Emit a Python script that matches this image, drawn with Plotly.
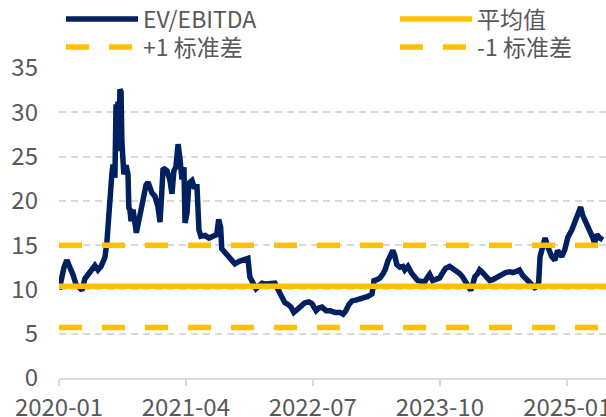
import plotly.graph_objects as go

# ---------------- data ----------------
dates = [
    "2020-01-02", "2020-01-06", "2020-01-13", "2020-01-19", "2020-01-29", "2020-02-09",
    "2020-02-20", "2020-03-02", "2020-03-13", "2020-03-24", "2020-04-03", "2020-04-14",
    "2020-04-25", "2020-05-09", "2020-05-20", "2020-05-31", "2020-06-07", "2020-06-14",
    "2020-06-21", "2020-06-25", "2020-07-02", "2020-07-09", "2020-07-13", "2020-07-17",
    "2020-07-20", "2020-07-24", "2020-07-27", "2020-07-31", "2020-08-03", "2020-08-07",
    "2020-08-11", "2020-08-14", "2020-08-18", "2020-08-21", "2020-08-29", "2020-09-05",
    "2020-09-08", "2020-09-12", "2020-09-16", "2020-09-23", "2020-10-05", "2020-10-11",
    "2020-10-18", "2020-10-29", "2020-11-09", "2020-11-16", "2020-11-30", "2020-12-11",
    "2020-12-22", "2020-12-29", "2021-01-05", "2021-01-09", "2021-01-23", "2021-02-03",
    "2021-02-10", "2021-02-17", "2021-02-24", "2021-03-04", "2021-03-11", "2021-03-18",
    "2021-03-25", "2021-03-29", "2021-04-05", "2021-04-12", "2021-04-23", "2021-04-30",
    "2021-05-11", "2021-05-18", "2021-05-25", "2021-06-09", "2021-06-23", "2021-07-07",
    "2021-07-21", "2021-07-28", "2021-08-04", "2021-08-08", "2021-08-19", "2021-08-30",
    "2021-09-10", "2021-09-24", "2021-10-12", "2021-10-30", "2021-11-10", "2021-11-17",
    "2021-11-28", "2021-12-09", "2021-12-20", "2021-12-31", "2022-01-14", "2022-01-28",
    "2022-02-15", "2022-02-26", "2022-03-09", "2022-03-23", "2022-04-03", "2022-04-14",
    "2022-04-24", "2022-05-05", "2022-05-16", "2022-06-03", "2022-06-17", "2022-06-28",
    "2022-07-13", "2022-07-23", "2022-08-03", "2022-08-18", "2022-09-01", "2022-09-19",
    "2022-10-07", "2022-10-18", "2022-10-28", "2022-11-08", "2022-11-19", "2022-12-03",
    "2022-12-18", "2023-01-03", "2023-01-15", "2023-01-30", "2023-02-06", "2023-02-17",
    "2023-02-28", "2023-03-11", "2023-03-18", "2023-03-28", "2023-04-04", "2023-04-15",
    "2023-04-22", "2023-04-29", "2023-05-10", "2023-05-21", "2023-05-28", "2023-06-08",
    "2023-06-22", "2023-07-03", "2023-07-13", "2023-07-28", "2023-08-08", "2023-08-18",
    "2023-08-25", "2023-09-05", "2023-09-19", "2023-09-30", "2023-10-11", "2023-10-22",
    "2023-11-05", "2023-11-16", "2023-11-27", "2023-12-11", "2023-12-22", "2024-01-02",
    "2024-01-12", "2024-01-20", "2024-01-27", "2024-02-03", "2024-02-14", "2024-02-21",
    "2024-03-03", "2024-03-14", "2024-03-28", "2024-04-08", "2024-04-19", "2024-05-03",
    "2024-05-14", "2024-05-24", "2024-06-08", "2024-06-19", "2024-06-29", "2024-07-13",
    "2024-07-24", "2024-08-04", "2024-08-15", "2024-08-26", "2024-09-06", "2024-09-13",
    "2024-09-20", "2024-09-25", "2024-10-08", "2024-10-13", "2024-10-23", "2024-10-30",
    "2024-11-06", "2024-11-17", "2024-11-27", "2024-12-05", "2024-12-12", "2024-12-23",
    "2025-01-03", "2025-01-17", "2025-01-28", "2025-02-07", "2025-02-18", "2025-02-25",
    "2025-03-11", "2025-03-22", "2025-04-03", "2025-04-09", "2025-04-17", "2025-04-28",
    "2025-05-09",
]
ev_ebitda = [
    10.0, 10.6, 11.6, 12.5, 13.3, 12.6,
    11.7, 10.6, 10.2, 9.9, 11.2, 11.6,
    12.0, 12.7, 12.2, 12.6, 13.1, 13.6,
    15.3, 17.5, 20.3, 23.0, 24.1, 23.2,
    22.6, 30.9, 28.6, 31.2, 25.6, 32.6,
    32.3, 26.7, 24.1, 23.0, 24.0, 23.0,
    19.2, 19.0, 17.7, 19.0, 16.4, 17.5,
    18.6, 20.1, 21.8, 22.1, 20.9, 20.5,
    19.3, 17.6, 21.3, 23.7, 23.4, 22.3,
    20.8, 23.4, 23.8, 26.4, 24.7, 22.4,
    23.8, 17.5, 18.6, 22.0, 22.3, 21.6,
    21.6, 16.7, 16.0, 16.1, 15.8, 16.0,
    16.2, 17.9, 17.0, 14.6, 14.2, 13.7,
    13.3, 12.9, 13.2, 13.3, 13.5, 11.4,
    10.6, 10.1, 10.4, 10.7, 10.6, 10.7,
    10.7, 10.0, 9.4, 8.5, 8.3, 8.0,
    7.4, 7.8, 8.0, 8.5, 8.6, 8.4,
    7.6, 7.9, 8.0, 7.6, 7.6, 7.4,
    7.4, 7.2, 7.6, 8.3, 8.7, 8.8,
    8.9, 9.1, 9.2, 9.5, 11.0, 11.1,
    11.3, 11.8, 12.2, 13.2, 13.7, 14.4,
    13.8, 12.8, 12.5, 12.6, 12.2, 12.6,
    11.8, 11.4, 11.0, 10.9, 10.9, 11.4,
    11.7, 11.0, 11.1, 11.3, 11.9, 12.4,
    12.6, 12.4, 12.2, 11.8, 11.4, 10.9,
    10.4, 9.9, 10.5, 11.4, 11.8, 12.2,
    11.9, 11.5, 11.0, 11.1, 11.3, 11.4,
    11.7, 11.9, 12.0, 11.9, 12.0, 12.2,
    11.6, 11.2, 10.8, 10.6, 10.2, 10.3,
    10.8, 13.7, 15.2, 15.8, 14.8, 14.0,
    13.7, 13.3, 14.4, 14.0, 13.7, 14.5,
    15.9, 16.7, 17.5, 18.2, 19.3, 18.4,
    17.5, 16.5, 15.8, 15.2, 16.2, 15.8,
    15.6,
]
MEAN = 10.35
STD = 4.65

x_range = ["2020-01-01", "2025-05-20"]
x_tick_vals = ["2020-01-01", "2021-04-01", "2022-07-01", "2023-10-01", "2025-01-01"]
x_tick_text = ["2020-01", "2021-04", "2022-07", "2023-10", "2025-01"]
y_tick_vals = [0, 5, 10, 15, 20, 25, 30, 35]

series_names = ["EV/EBITDA", "平均值", "+1 标准差", "-1 标准差"]

# ---------------- styles ----------------
NAVY = "#002060"
GOLD = "#FFC000"
GRID = "#D9D9D9"
TEXT = "#595959"
FONT = "Noto Sans CJK SC, Noto Sans, sans-serif"

W, H = 606, 417

fig = go.Figure()

fig.add_trace(go.Scatter(
    x=dates, y=ev_ebitda, mode="lines", name=series_names[0],
    line=dict(color=NAVY, width=5.5), legend="legend", hoverinfo="skip",
))
fig.add_trace(go.Scatter(
    x=x_range, y=[MEAN, MEAN], mode="lines", name=series_names[1],
    line=dict(color=GOLD, width=5.5), legend="legend2", hoverinfo="skip",
))
fig.add_trace(go.Scatter(
    x=x_range, y=[MEAN + STD, MEAN + STD], mode="lines", name=series_names[2],
    line=dict(color=GOLD, width=5.5, dash="23px,20px"), legend="legend3", hoverinfo="skip",
))
fig.add_trace(go.Scatter(
    x=x_range, y=[MEAN - STD, MEAN - STD], mode="lines", name=series_names[3],
    line=dict(color=GOLD, width=5.5, dash="23px,20px"), legend="legend4", hoverinfo="skip",
))

legend_common = dict(
    orientation="v", xref="container", yref="container",
    xanchor="left", yanchor="middle", itemwidth=72,
    font=dict(family=FONT, size=23, color=TEXT),
    bgcolor="rgba(0,0,0,0)",
)
col_x = [61 / W, 395 / W]
row_y = [1 - 19 / H, 1 - 47 / H]

fig.update_layout(
    width=W, height=H,
    margin=dict(l=59, r=0, t=68, b=39, autoexpand=False),
    paper_bgcolor="white", plot_bgcolor="white",
    font=dict(family=FONT, size=23, color=TEXT),
    showlegend=True,
    legend=dict(x=col_x[0], y=row_y[0], **legend_common),
    legend2=dict(x=col_x[1], y=row_y[0], **legend_common),
    legend3=dict(x=col_x[0], y=row_y[1], **legend_common),
    legend4=dict(x=col_x[1], y=row_y[1], **legend_common),
    xaxis=dict(
        type="date", range=x_range,
        tickvals=x_tick_vals, ticktext=x_tick_text, tickangle=0,
        showgrid=False, zeroline=False,
        showline=True, linecolor=GRID, linewidth=1.5,
        ticks="outside", ticklen=6, tickcolor=GRID, tickwidth=1.5,
        tickfont=dict(family=FONT, size=24, color=TEXT),
        ticklabelstandoff=1, automargin=False, ticklabeloverflow="allow",
    ),
    yaxis=dict(
        range=[0, 35], tickvals=y_tick_vals,
        showgrid=True, gridcolor=GRID, gridwidth=1.5, griddash="7px,5px",
        zeroline=False, showline=False, ticks="",
        tickfont=dict(family=FONT, size=24, color=TEXT),
        ticklabelstandoff=20, automargin=False,
    ),
)

# remove the browser's default 8px body margin so the 606x417 figure fills the window
fig.write_html(
    "out.html",
    config={"displayModeBar": False},
    post_script="document.body.style.margin='0';document.body.style.overflow='hidden';",
)
